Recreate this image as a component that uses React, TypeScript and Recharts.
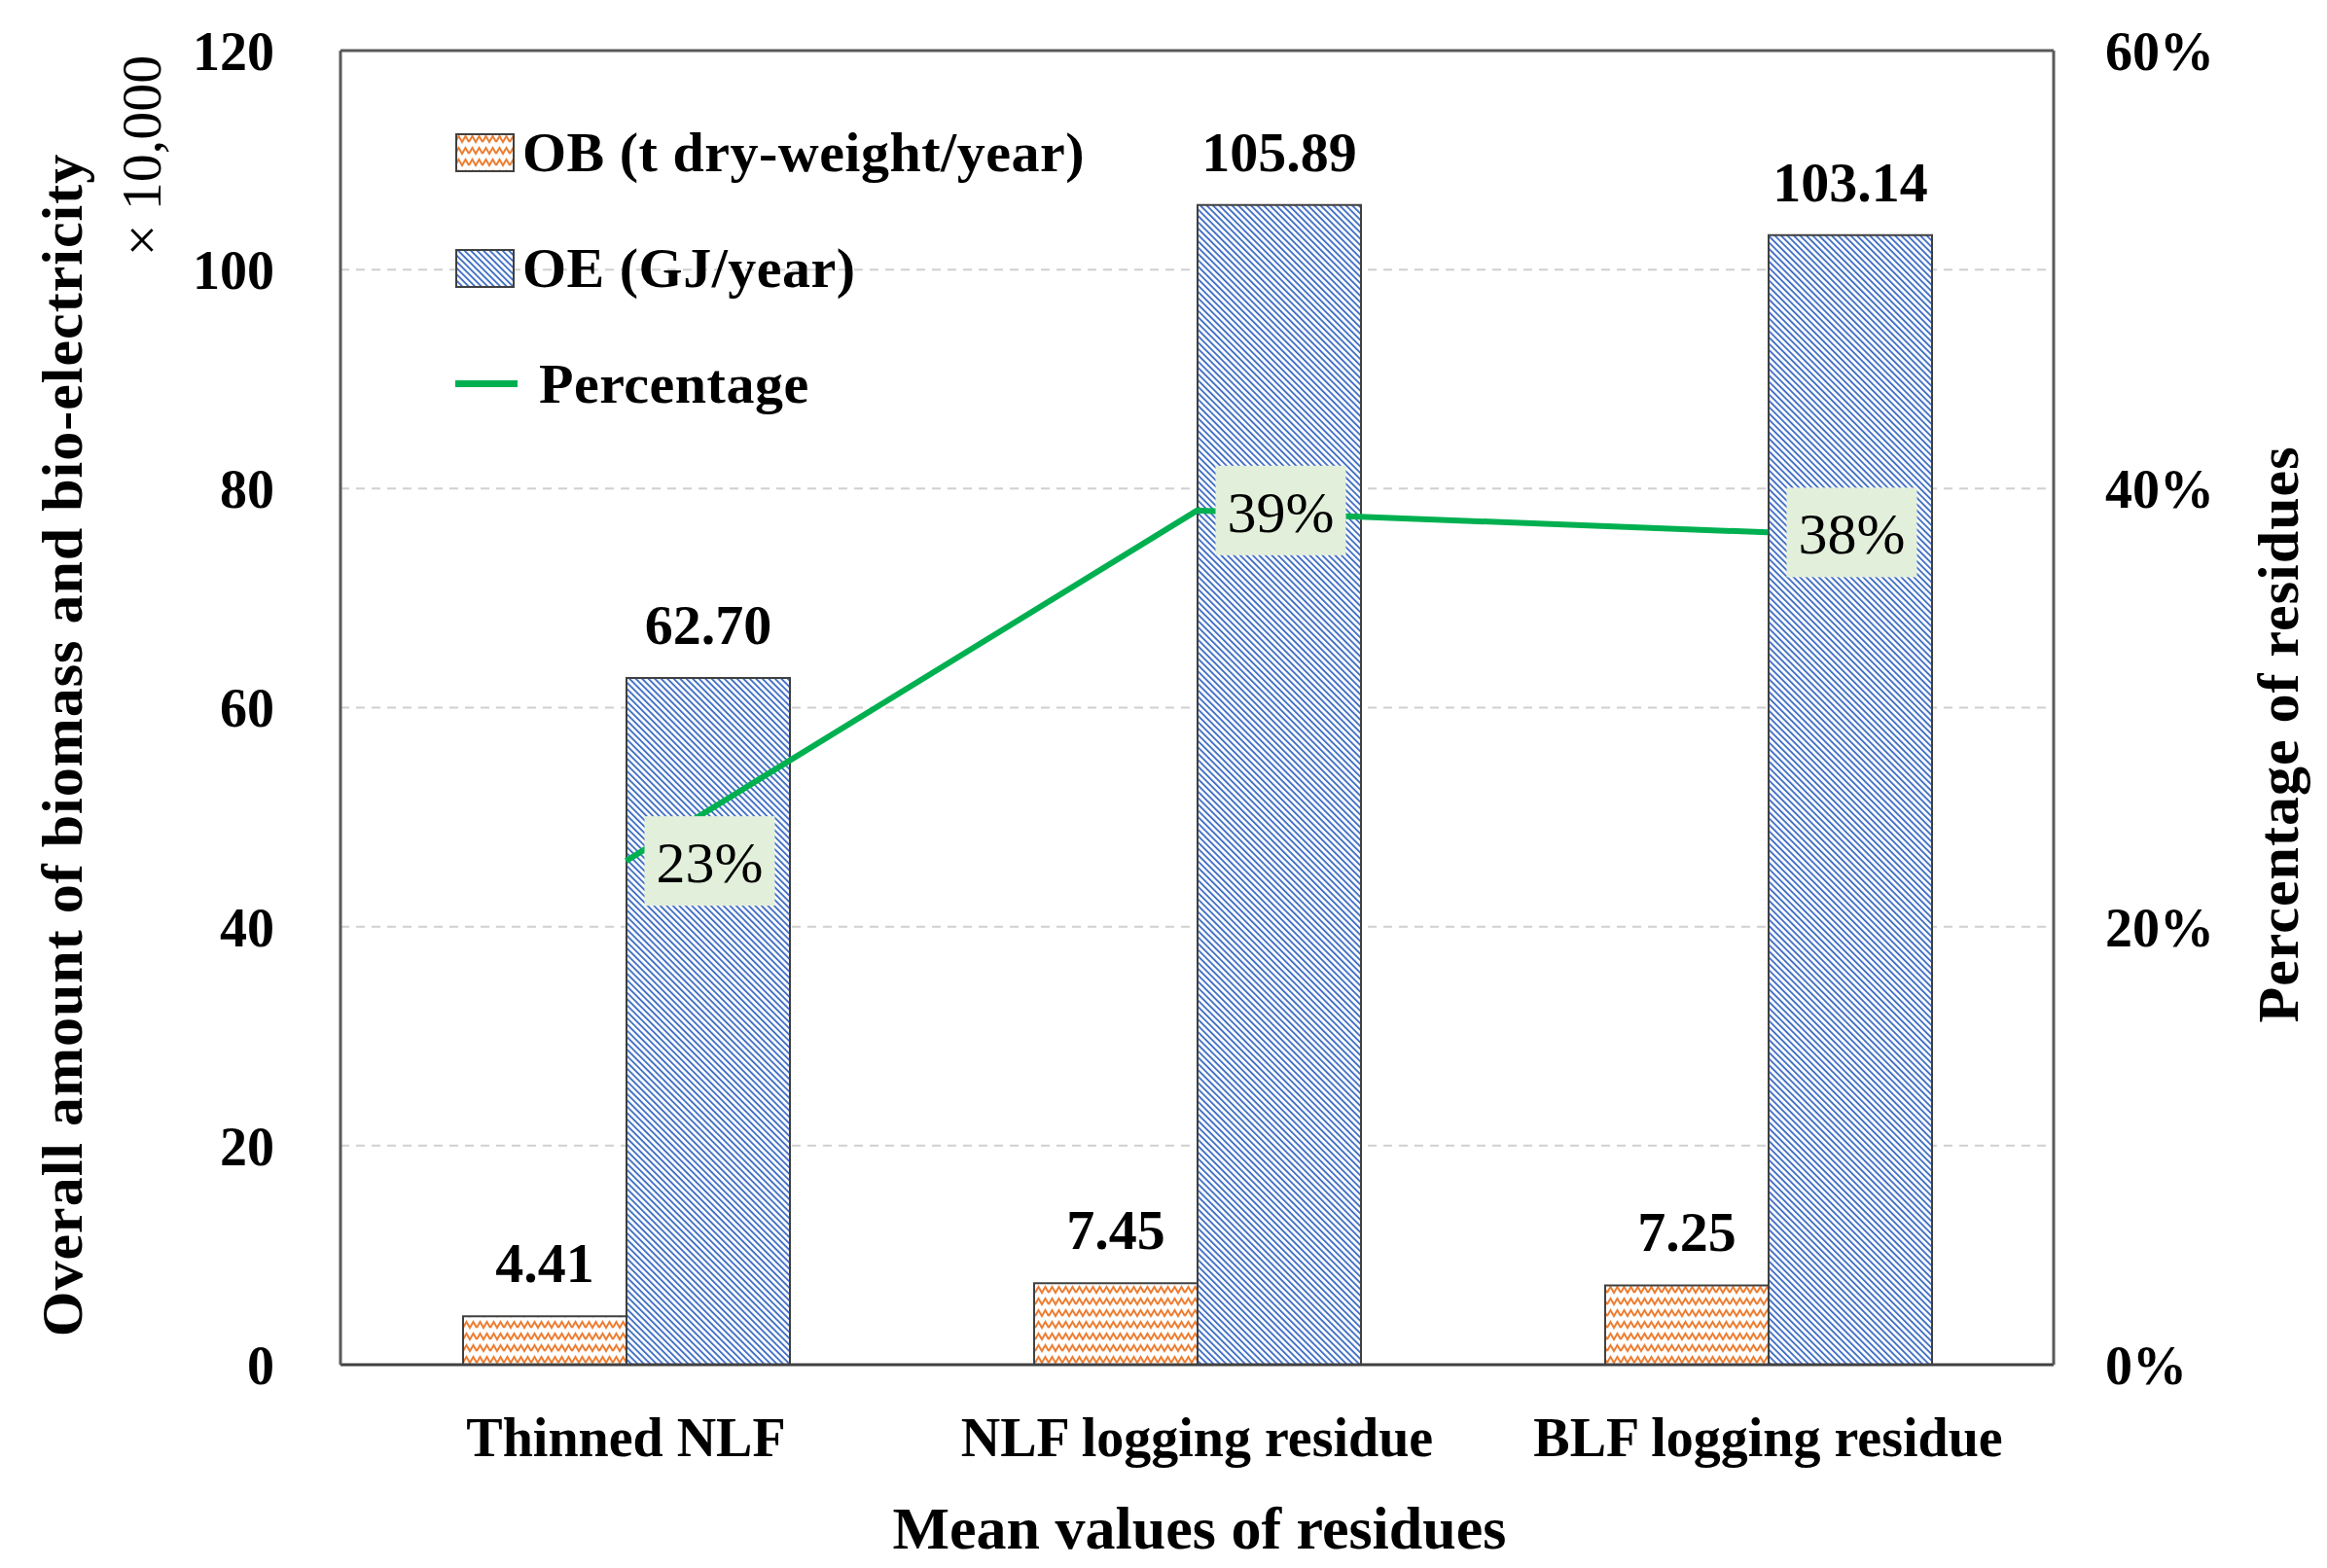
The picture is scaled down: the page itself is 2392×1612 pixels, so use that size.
import {
  ComposedChart,
  Bar,
  Line,
  XAxis,
  YAxis,
  CartesianGrid,
  LabelList,
  Label,
  ReferenceLine
} from "recharts";

const categories = ["Thinned NLF", "NLF logging residue", "BLF logging residue"];
const obValues = [4.41, 7.45, 7.25];
const oeValues = [62.7, 105.89, 103.14];
const pctValues = [0.23, 0.39, 0.38];
const leftTicks = [0, 20, 40, 60, 80, 100, 120];
const rightTicks = [0, 0.2, 0.4, 0.6];

const data = categories.map((name, i) => ({
  name,
  ob: obValues[i],
  oe: oeValues[i],
  pct: pctValues[i]
}));

const W = 2392;
const H = 1612;
const FONT = "'Liberation Serif', 'Times New Roman', serif";
const ORANGE = "#ed7d31";
const BLUE = "#4472c4";
const GREEN = "#00b050";
const EDGE = "#404040";
const FRAME = "#595959";

// zigzag (OB) and diagonal hatch (OE) fills
function Patterns({ suffix }: { suffix: string }) {
  return (
    <defs>
      <pattern id={"ob" + suffix} patternUnits="userSpaceOnUse" width={14} height={12}>
        <rect width={14} height={12} fill="#fff" />
        <polyline
          points="0,9 3.5,3 7,9 10.5,3 14,9"
          fill="none"
          stroke={ORANGE}
          strokeWidth={2}
        />
      </pattern>
      <pattern
        id={"oe" + suffix}
        patternUnits="userSpaceOnUse"
        width={4.6}
        height={10}
        patternTransform="rotate(-45)"
      >
        <rect width={4.6} height={10} fill="#fff" />
        <rect width={1.9} height={10} fill={BLUE} />
      </pattern>
    </defs>
  );
}

const tickStyle = { fontFamily: FONT, fontSize: 56, fontWeight: "bold", fill: "#000" };

const PctLabel = (props: any) => {
  const { x, y, value } = props;
  const cx = x + 86;
  return (
    <g>
      <rect x={cx - 67} y={y - 46} width={134} height={92} fill="#e2efda" />
      <text
        x={cx}
        y={y + 2}
        textAnchor="middle"
        dominantBaseline="central"
        fontFamily={FONT}
        fontSize={60}
        fill="#000"
      >
        {Math.round(value * 100) + "%"}
      </text>
    </g>
  );
};

const Titles = () => (
  <g fontFamily={FONT} fill="#000">
    <text
      x={64}
      y={766}
      transform="rotate(-90 64 766)"
      textAnchor="middle"
      dominantBaseline="central"
      fontSize={60}
      fontWeight="bold"
      letterSpacing={1}
    >
      Overall amount of biomass and bio-electricity
    </text>
    <text
      x={145}
      y={160}
      transform="rotate(-90 145 160)"
      textAnchor="middle"
      dominantBaseline="central"
      fontSize={58}
    >
      × 10,000
    </text>
    <text
      x={2342}
      y={755}
      transform="rotate(-90 2342 755)"
      textAnchor="middle"
      dominantBaseline="central"
      fontSize={60}
      fontWeight="bold"
      letterSpacing={1}
    >
      Percentage of residues
    </text>
    <text
      x={1233}
      y={1571}
      textAnchor="middle"
      dominantBaseline="central"
      fontSize={62}
      fontWeight="bold"
    >
      Mean values of residues
    </text>
  </g>
);

function LegendBox() {
  const row: any = {
    height: 119,
    display: "flex",
    alignItems: "center",
    fontFamily: FONT,
    fontSize: 58,
    fontWeight: "bold",
    color: "#000",
    whiteSpace: "nowrap",
    letterSpacing: 0.5
  };
  const patch = (id: string) => (
    <svg width={61} height={40} style={{ marginRight: 8, flex: "none" }}>
      <rect x={1} y={1} width={59} height={38} fill={`url(#${id}L)`} stroke={EDGE} strokeWidth={2} />
    </svg>
  );
  return (
    <div style={{ position: "absolute", left: 468, top: 97 }}>
      <svg width={0} height={0} style={{ position: "absolute" }}>
        <Patterns suffix="L" />
      </svg>
      <div style={row}>
        {patch("ob")}
        OB (t dry-weight/year)
      </div>
      <div style={row}>
        {patch("oe")}
        OE (GJ/year)
      </div>
      <div style={row}>
        <div style={{ width: 64, height: 7, background: GREEN, marginRight: 22 }} />
        Percentage
      </div>
    </div>
  );
}

export default function App() {
  return (
    <div style={{ position: "absolute", left: 0, top: 0, width: W, height: H, background: "#fff" }}>
      <ComposedChart
        width={W}
        height={H}
        data={data}
        barGap={0}
        margin={{ top: 52, right: 81, bottom: 109, left: 150 }}
      >
        <Patterns suffix="" />
        <CartesianGrid
          vertical={false}
          stroke="#d0d0d0"
          strokeWidth={2}
          strokeDasharray="9 7"
          yAxisId="left"
        />
        <XAxis
          dataKey="name"
          height={100}
          tickSize={0}
          tickMargin={54}
          tickLine={false}
          axisLine={{ stroke: EDGE, strokeWidth: 3 }}
          tick={tickStyle}
          interval={0}
        >
          <Label content={() => <Titles />} />
        </XAxis>
        <XAxis
          xAxisId="top"
          orientation="top"
          dataKey="name"
          height={0}
          tick={false}
          tickLine={false}
          axisLine={{ stroke: FRAME, strokeWidth: 3 }}
        />
        <YAxis
          yAxisId="left"
          width={200}
          domain={[0, 120]}
          ticks={leftTicks}
          tickSize={0}
          tickMargin={68}
          tickLine={false}
          axisLine={{ stroke: FRAME, strokeWidth: 3 }}
          tick={tickStyle}
        />
        <YAxis
          yAxisId="right"
          orientation="right"
          width={200}
          domain={[0, 0.6]}
          ticks={rightTicks}
          tickSize={0}
          tickMargin={53}
          tickLine={false}
          axisLine={{ stroke: FRAME, strokeWidth: 3 }}
          tick={tickStyle}
          tickFormatter={(v) => Math.round(v * 100) + "%"}
        />
        <ReferenceLine yAxisId="left" y={120} stroke={FRAME} strokeWidth={3} />
        <Bar
          yAxisId="left"
          dataKey="ob"
          barSize={168}
          fill="url(#ob)"
          stroke={EDGE}
          strokeWidth={2}
          isAnimationActive={false}
        >
          <LabelList
            dataKey="ob"
            position="top"
            offset={35}
            formatter={(v: any) => Number(v).toFixed(2)}
            fontFamily={FONT}
            fontSize={58}
            fontWeight="bold"
            fill="#000"
          />
        </Bar>
        <Bar
          yAxisId="left"
          dataKey="oe"
          barSize={168}
          fill="url(#oe)"
          stroke={EDGE}
          strokeWidth={2}
          isAnimationActive={false}
        >
          <LabelList
            dataKey="oe"
            position="top"
            offset={35}
            formatter={(v: any) => Number(v).toFixed(2)}
            fontFamily={FONT}
            fontSize={58}
            fontWeight="bold"
            fill="#000"
          />
        </Bar>
        <Line
          yAxisId="right"
          dataKey="pct"
          type="linear"
          stroke={GREEN}
          strokeWidth={6}
          dot={false}
          activeDot={false}
          isAnimationActive={false}
        >
          <LabelList dataKey="pct" content={<PctLabel />} />
        </Line>
      </ComposedChart>
      <LegendBox />
    </div>
  );
}
